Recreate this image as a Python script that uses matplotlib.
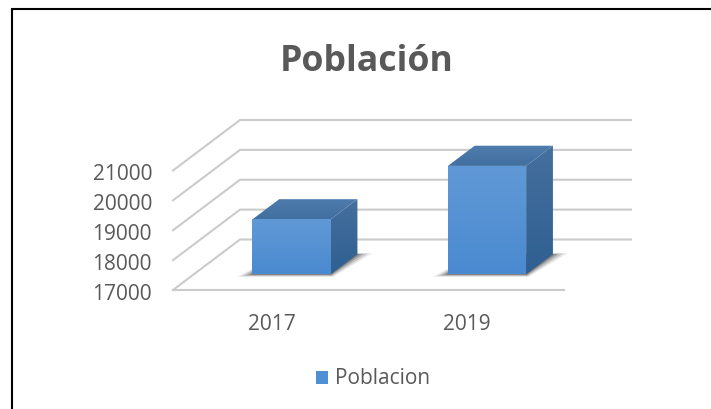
import matplotlib
matplotlib.use("Agg")
import matplotlib.pyplot as plt
import numpy as np
from matplotlib.colors import to_rgb
from matplotlib.lines import Line2D
from matplotlib.patches import Polygon, Rectangle

plt.rcParams['font.family'] = ['Open Sans', 'DejaVu Sans']

years = ["2017", "2019"]
poblacion = [18840, 20630]
yticks = [17000, 18000, 19000, 20000, 21000]
title = "Población"
serie = "Poblacion"
grey = "#595959"

W, H = 711, 410
fig = plt.figure(figsize=(W / 100, H / 100), dpi=100)

# front plane of the fake 3d box, in pixels
x0, x1 = 173, 564
y0, y1 = 291, 171.5
x_per_px = 2 / (x1 - x0)
y_per_px = 4000 / (y0 - y1)

# axes cover the whole figure so the bars are not cut at the top
ax = fig.add_axes([0, 0, 1, 1])
xlim = (-0.5 - x0 * x_per_px, -0.5 + (W - x0) * x_per_px)
ylim = (17000 - (H - y0) * y_per_px, 17000 + y0 * y_per_px)
ax.axis("off")

# depth 1 = back wall, moves 67px right and 50px up
dx = 67 * x_per_px
dy = 50.5 * y_per_px


def proj(x, v, d):
    return x + d * dx, v + d * dy


def face(points, c_top, c_bot, z):
    # polygon filled with a vertical gradient
    xs = [p[0] for p in points]
    ys = [p[1] for p in points]
    grad = np.linspace(0, 1, 64)[:, None, None]
    img = np.array(to_rgb(c_top)) * (1 - grad) + np.array(to_rgb(c_bot)) * grad
    im = ax.imshow(img, extent=[min(xs), max(xs), min(ys), max(ys)],
                   aspect="auto", origin="upper", zorder=z)
    im.set_clip_path(Polygon(points, closed=True, transform=ax.transData))


# walls and floor gridlines
for v in yticks:
    a, b, c = proj(-0.5, v, 0), proj(-0.5, v, 1), proj(1.5, v, 1)
    ax.plot([a[0], b[0], c[0]], [a[1], b[1], c[1]], color="#cbcbcb", lw=1.5,
            zorder=1, solid_joinstyle="miter")
ax.plot([-0.5, 1.5], [17000, 17000], color="#cbcbcb", lw=1.5, zorder=1)

# bars
half = 0.2
d_front, d_back = 0.31, 0.71
for i, v in enumerate(poblacion):
    l, r = i - half, i + half
    a = proj(l, 17000, d_front)
    b = proj(r, 17000, d_front)
    c = proj(r, v, d_front)
    e = proj(l, v, d_front)
    f = proj(l, v, d_back)
    g = proj(r, v, d_back)
    h = proj(r, 17000, d_back)

    # soft shadow on the floor
    for grow, al in zip([1.0, 0.7, 0.4, 0.15], [0.10, 0.18, 0.25, 0.35]):
        sh = [proj(l - 0.06 * grow, 17000, d_front - 0.05 * grow),
              proj(r + 0.03 * grow, 17000, d_front - 0.05 * grow),
              proj(r + 0.07 * grow, 17000, d_back + 0.02 * grow),
              proj(l, 17000, d_back)]
        ax.add_patch(Polygon(sh, closed=True, fc="#303030", ec="none", alpha=al, zorder=2))

    face([a, b, c, e], "#6199d6", "#4a8ad0", 3)
    face([b, h, g, c], "#456f9e", "#2f6091", 3)
    face([e, c, g, f], "#4f7cae", "#416f9f", 3)

ax.set_xlim(*xlim)
ax.set_ylim(*ylim)

# axis labels
for v in yticks:
    ax.annotate(str(v), (-0.5, v), xytext=(-21, -3), textcoords="offset pixels",
                ha="right", va="center", fontsize=15, color=grey)
for i, y in enumerate(years):
    ax.annotate(y, (i, 17000), xytext=(1, -33), textcoords="offset pixels",
                ha="center", va="center", fontsize=15, color=grey)

fig.text(367 / W, 1 - 62 / H, title, ha="center", va="center", fontsize=25.7,
         fontweight="bold", color=grey)

# legend
fig.add_artist(Rectangle((316 / W, 1 - 385 / H), 12 / W, 13 / H,
                         transform=fig.transFigure, fc="#4f8fd4", ec="none"))
fig.text(335 / W, 1 - 379 / H, serie, ha="left", va="center", fontsize=15, color=grey)

# frame of the pasted picture, only top and left show
fig.add_artist(Line2D([11.8 / W, 11.8 / W, 1], [0, 1 - 10 / H, 1 - 10 / H],
                      transform=fig.transFigure, color="black", lw=1.5,
                      solid_joinstyle="miter"))

fig.savefig("out.png", dpi=100)
